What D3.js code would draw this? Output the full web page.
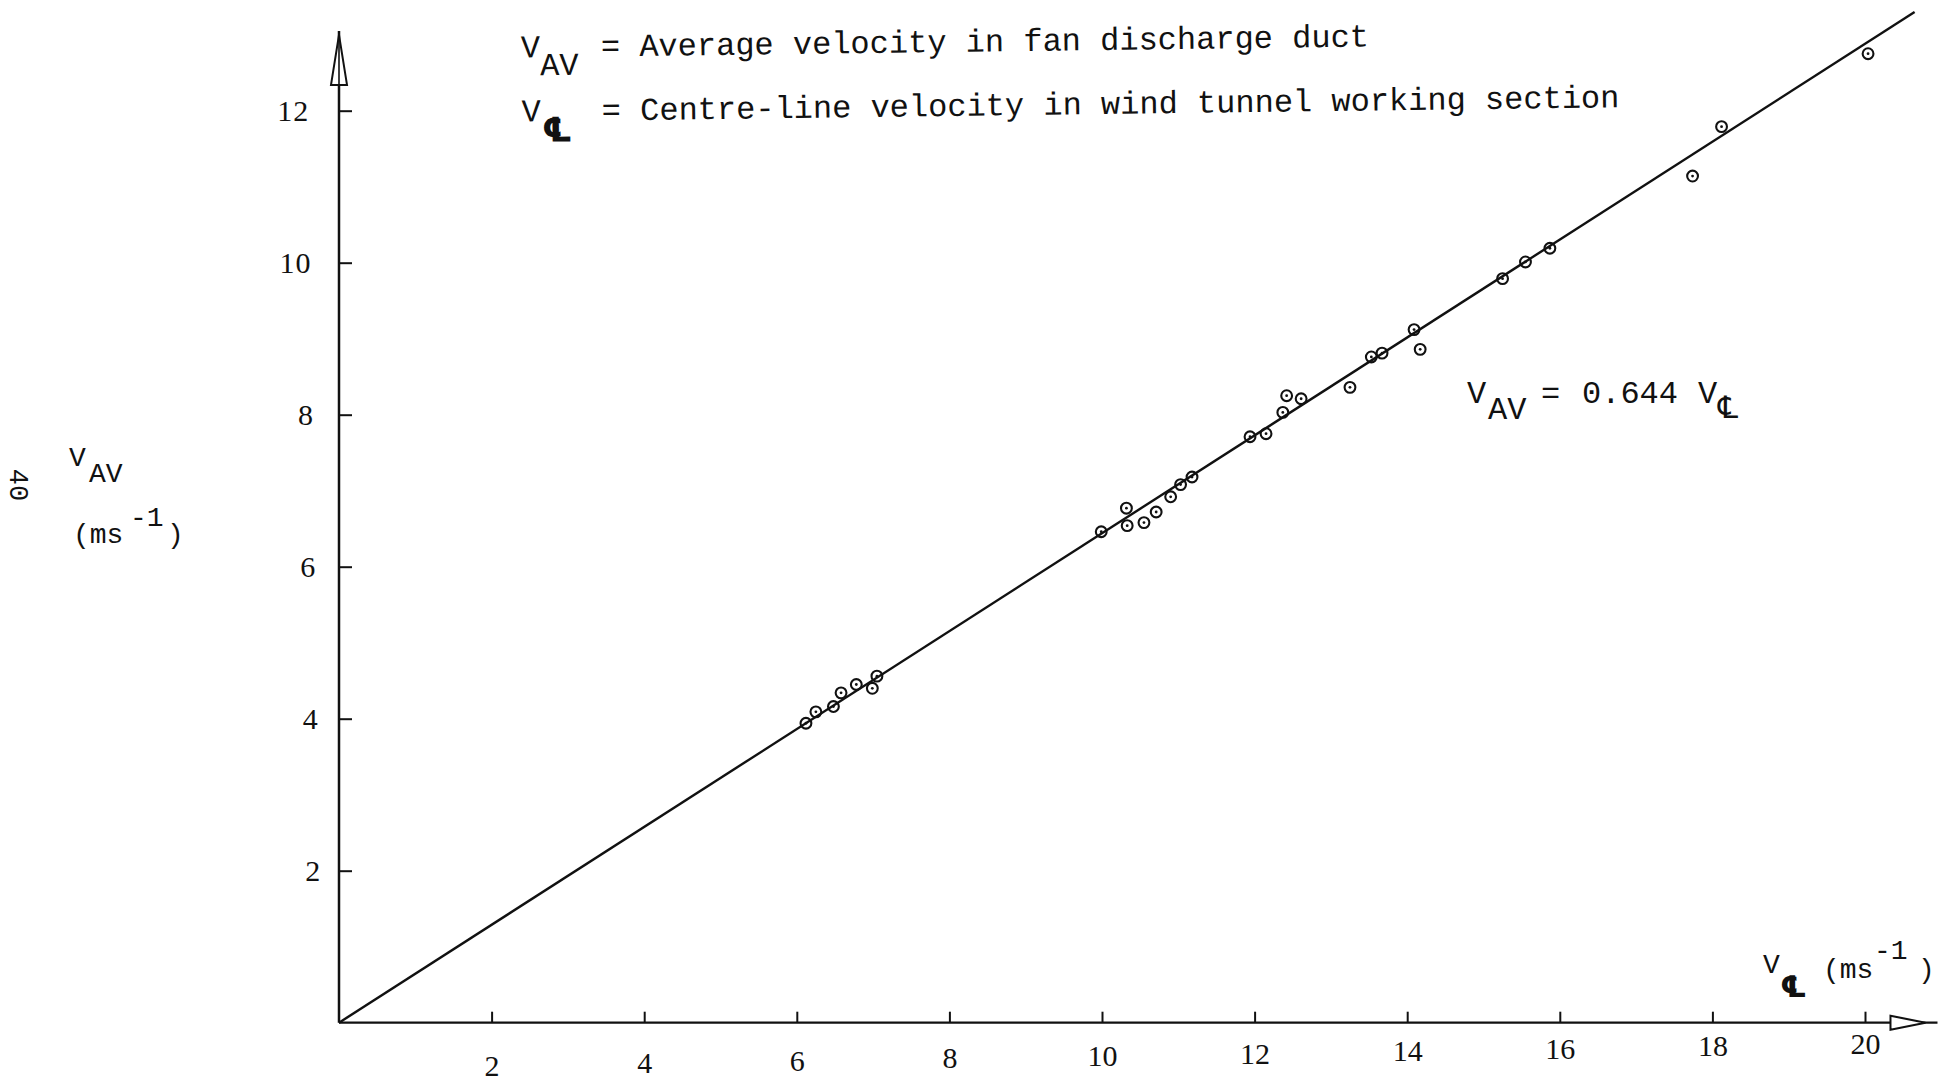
<!DOCTYPE html>
<html>
<head>
<meta charset="utf-8">
<script src="https://cdn.jsdelivr.net/npm/d3@7"></script>
<style>
  html, body { margin: 0; padding: 0; background: #ffffff; }
  svg { display: block; }
  .mono { font-family: "Liberation Mono", "Courier New", monospace; fill: #111; }
  .serif { font-family: "Liberation Serif", "Times New Roman", serif; fill: #111; }
  .cl { font-family: "DejaVu Sans", "Noto Sans", sans-serif; fill: #111; }
</style>
</head>
<body>
<svg id="chart" width="1943" height="1083"></svg>
<script>
// Measured velocities: centre-line (working section) vs. average (fan discharge duct), m/s
const vCentre = [6.12, 6.25, 6.48, 6.58, 6.78, 6.99, 7.05,
                 9.99, 10.32, 10.33, 10.55, 10.71, 10.90, 11.03, 11.18,
                 11.94, 12.15, 12.37, 12.42, 12.61, 13.25,
                 13.53, 13.67, 14.09, 14.17,
                 15.25, 15.55, 15.87, 17.74, 18.12, 20.04];
const vAverage = [3.94, 4.09, 4.16, 4.34, 4.45, 4.40, 4.56,
                  6.46, 6.77, 6.54, 6.58, 6.72, 6.92, 7.08, 7.18,
                  7.71, 7.75, 8.03, 8.25, 8.21, 8.36,
                  8.76, 8.81, 9.12, 8.86,
                  9.79, 10.01, 10.19, 11.14, 11.79, 12.75];

// Fitted proportionality V_AV = k * V_CL
const slope = 0.644;
const fitRange = [0, 20.65];

const xTicks = [2, 4, 6, 8, 10, 12, 14, 16, 18, 20];
const yTicks = [2, 4, 6, 8, 10, 12];

const svg = d3.select("#chart");
const ink = "#111";

const x = d3.scaleLinear().domain([0, 20]).range([339, 1865]);
const y = d3.scaleLinear().domain([0, 12]).range([1022.7, 110.7]);

// typed lettering sits on a slightly skewed baseline
const tilt = Math.tan(0.9 * Math.PI / 180);

// ---- axes: ticks point inward, labels typed on a tilted line ----
const gx = svg.append("g")
  .attr("transform", `translate(0,${y(0)})`)
  .call(d3.axisBottom(x).tickValues(xTicks).tickSizeInner(-11).tickSizeOuter(0)
        .tickPadding(34).tickFormat(d3.format("d")));
gx.select(".domain").remove();
gx.selectAll(".tick line").attr("stroke", ink).attr("stroke-width", 2);
gx.selectAll(".tick text")
  .attr("class", "serif")
  .attr("font-size", 30)
  .attr("y", d => 34 - (x(d) - x(0)) * tilt);
gx.attr("font-family", null).attr("font-size", null);

const gy = svg.append("g")
  .attr("transform", `translate(${x(0)},0)`)
  .call(d3.axisLeft(y).tickValues(yTicks).tickSizeInner(-13).tickSizeOuter(0)
        .tickPadding(15.5).tickFormat(d3.format("d")));
gy.select(".domain").remove();
gy.selectAll(".tick line").attr("stroke", ink).attr("stroke-width", 2);
gy.selectAll(".tick text")
  .attr("class", "serif")
  .attr("font-size", 30)
  .attr("letter-spacing", 1)
  .attr("x", d => -15.5 - (y(0) - y(d)) * tilt);
gy.attr("font-family", null).attr("font-size", null);

// axis lines with open arrowheads
const xEnd = x(20.95), yEnd = y(13.05);
svg.append("line")
  .attr("x1", x(0)).attr("y1", y(0)).attr("x2", xEnd).attr("y2", y(0))
  .attr("stroke", ink).attr("stroke-width", 2.3);
svg.append("line")
  .attr("x1", x(0)).attr("y1", y(0)).attr("x2", x(0)).attr("y2", yEnd)
  .attr("stroke", ink).attr("stroke-width", 2.5);
svg.append("path")
  .attr("d", `M${xEnd - 47},${y(0) - 7}L${xEnd - 12},${y(0)}L${xEnd - 47},${y(0) + 7}Z`)
  .attr("fill", "#fff").attr("stroke", ink).attr("stroke-width", 2);
svg.append("path")
  .attr("d", `M${x(0) - 8},${yEnd + 54}L${x(0)},${yEnd + 4}L${x(0) + 8},${yEnd + 54}Z`)
  .attr("fill", "#fff").attr("stroke", ink).attr("stroke-width", 2);
svg.append("line")
  .attr("x1", x(0)).attr("y1", yEnd + 54).attr("x2", x(0)).attr("y2", yEnd)
  .attr("stroke", ink).attr("stroke-width", 1.6);

// ---- fitted line ----
svg.append("path")
  .datum(fitRange)
  .attr("d", d3.line().x(d => x(d)).y(d => y(slope * d)))
  .attr("fill", "none").attr("stroke", ink).attr("stroke-width", 2.4);

// ---- measured points: open circle with a centre dot ----
const pts = vCentre.map((v, i) => ({ c: v, a: vAverage[i] }));
const gp = svg.append("g");
gp.selectAll("circle.ring").data(pts).join("circle")
  .attr("class", "ring")
  .attr("cx", d => x(d.c)).attr("cy", d => y(d.a)).attr("r", 5.4)
  .attr("fill", "none").attr("stroke", ink).attr("stroke-width", 2.1);
gp.selectAll("circle.dot").data(pts).join("circle")
  .attr("class", "dot")
  .attr("cx", d => x(d.c)).attr("cy", d => y(d.a)).attr("r", 1.4)
  .attr("fill", ink);

// ---- typed legend at the top ----
const hs = 32;
const head = svg.append("g").attr("transform", "rotate(-0.75,522,57)");
head.append("text").attr("class", "mono").attr("font-size", hs)
  .attr("x", 521).attr("y", 57.5).text("V");
head.append("text").attr("class", "mono").attr("font-size", hs)
  .attr("x", 540).attr("y", 75.5).text("AV");
head.append("text").attr("class", "mono").attr("font-size", hs)
  .attr("x", 601).attr("y", 57.5).text("= Average velocity in fan discharge duct");
head.append("text").attr("class", "mono").attr("font-size", hs)
  .attr("x", 521).attr("y", 121.5).text("V");
head.append("text").attr("class", "cl").attr("font-size", 34).attr("font-weight", "bold")
  .attr("x", 541).attr("y", 142).text("\u2104");
head.append("text").attr("class", "mono").attr("font-size", hs)
  .attr("x", 601).attr("y", 121.5).text("= Centre-line velocity in wind tunnel working section");

// ---- fitted relation label ----
const eq = svg.append("g");
eq.append("text").attr("class", "mono").attr("font-size", hs)
  .attr("x", 1467).attr("y", 403).text("V");
eq.append("text").attr("class", "mono").attr("font-size", hs)
  .attr("x", 1488).attr("y", 419).text("AV");
eq.append("text").attr("class", "mono").attr("font-size", hs)
  .attr("x", 1541).attr("y", 403).text("=");
eq.append("text").attr("class", "mono").attr("font-size", hs)
  .attr("x", 1582).attr("y", 403).text(slope.toFixed(3));
eq.append("text").attr("class", "mono").attr("font-size", hs)
  .attr("x", 1698).attr("y", 403).text("V");
eq.append("text").attr("class", "cl").attr("font-size", 31)
  .attr("x", 1718).attr("y", 418).text("\u2104");

// ---- axis titles ----
const yt = svg.append("g");
yt.append("text").attr("class", "mono").attr("font-size", 28).attr("x", 69).attr("y", 466).text("V");
yt.append("text").attr("class", "mono").attr("font-size", 28).attr("x", 89).attr("y", 482).text("AV");
yt.append("text").attr("class", "mono").attr("font-size", 28).attr("x", 73).attr("y", 543).text("(ms");
yt.append("text").attr("class", "mono").attr("font-size", 28).attr("x", 130).attr("y", 526).text("-1");
yt.append("text").attr("class", "mono").attr("font-size", 28).attr("x", 167).attr("y", 543).text(")");

const xt = svg.append("g");
xt.append("text").attr("class", "mono").attr("font-size", 28).attr("x", 1763).attr("y", 973).text("V");
xt.append("text").attr("class", "cl").attr("font-size", 30).attr("font-weight", "bold")
  .attr("x", 1780).attr("y", 997).text("\u2104");
xt.append("text").attr("class", "mono").attr("font-size", 28).attr("x", 1823).attr("y", 978).text("(ms");
xt.append("text").attr("class", "mono").attr("font-size", 28).attr("x", 1874).attr("y", 959).text("-1");
xt.append("text").attr("class", "mono").attr("font-size", 28).attr("x", 1918).attr("y", 978).text(")");

// page number, printed sideways
svg.append("text").attr("class", "mono").attr("font-size", 27)
  .attr("text-anchor", "middle").attr("dominant-baseline", "central")
  .attr("transform", "translate(17,485) rotate(90)").text("40");
</script>
</body>
</html>
